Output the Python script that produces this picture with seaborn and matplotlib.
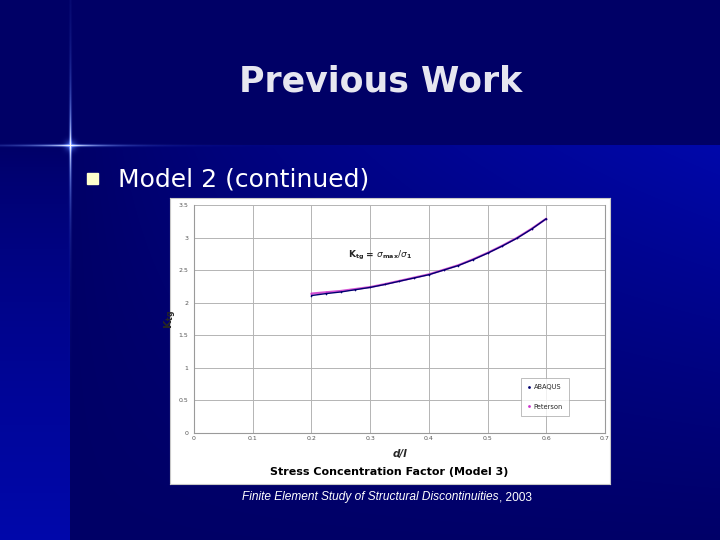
import numpy as np
import pandas as pd
import matplotlib
matplotlib.use("Agg")
import matplotlib.pyplot as plt
import seaborn as sns
from matplotlib.ticker import FuncFormatter

# ---- data ----
d_abaqus = [0.200, 0.225, 0.250, 0.275, 0.300, 0.325, 0.350, 0.375, 0.400,
            0.425, 0.450, 0.475, 0.500, 0.525, 0.550, 0.575, 0.600]
k_abaqus = [2.11, 2.14, 2.165, 2.20, 2.235, 2.28, 2.33, 2.38, 2.43,
            2.50, 2.57, 2.66, 2.76, 2.87, 2.99, 3.13, 3.29]
d_peterson = [0.200, 0.225, 0.250, 0.275, 0.300, 0.325, 0.350, 0.375, 0.400,
              0.425, 0.450, 0.475, 0.500, 0.525, 0.550, 0.575, 0.600]
k_peterson = [2.14, 2.16, 2.18, 2.21, 2.24, 2.285, 2.335, 2.385, 2.435,
              2.505, 2.575, 2.665, 2.765, 2.875, 2.995, 3.135, 3.29]
series_names = ["ABAQUS", "Peterson"]
x_ticks = [0, 0.1, 0.2, 0.3, 0.4, 0.5, 0.6, 0.7]
y_ticks = [0, 0.5, 1, 1.5, 2, 2.5, 3, 3.5]

df = pd.DataFrame({
    "d": d_abaqus + d_peterson,
    "K": k_abaqus + k_peterson,
    "series": [series_names[0]] * len(d_abaqus) + [series_names[1]] * len(d_peterson),
})

sns.set_theme(style="white")
plt.rcParams["font.family"] = ["DejaVu Sans"]

W, H = 720, 540
fig = plt.figure(figsize=(7.2, 5.4), dpi=100)

# ---- slide background ----
yy, xx = np.mgrid[0:H, 0:W].astype(float)
dark = np.array([0.0, 0.0, 0.40])
bright = np.array([0.0, 0.03, 0.67])
t = np.zeros((H, W))
right = (xx >= 70) & (yy >= 145)
t_r = np.clip((xx - 70) / 650.0, 0, 1) ** 0.8 * np.clip(1 - (yy - 145) / 420.0, 0, 1) ** 1.2
t[right] = t_r[right]
left = (xx < 70) & (yy >= 145)
t_l = np.clip((yy - 145) / 395.0, 0, 1) ** 0.7
t[left] = t_l[left]
img = dark[None, None, :] * (1 - t[..., None]) + bright[None, None, :] * t[..., None]
# lens flare
glow_v = np.exp(-((xx - 70) ** 2) / 1.5) * np.exp(-np.abs(yy - 145) / 55.0)
glow_h = np.exp(-((yy - 145) ** 2) / 1.5) * np.exp(-np.abs(xx - 70) / 45.0)
glow_c = np.exp(-((xx - 70) ** 2 + (yy - 145) ** 2) / 30.0)
g = np.clip(glow_v + glow_h + 0.6 * glow_c, 0, 1)
flare_col = np.array([0.35, 0.5, 1.0])
img = img * (1 - g[..., None]) + flare_col[None, None, :] * g[..., None]
white_core = np.clip(np.exp(-((xx - 70) ** 2) / 0.6) * np.exp(-np.abs(yy - 145) / 18.0)
                     + np.exp(-((yy - 145) ** 2) / 0.6) * np.exp(-np.abs(xx - 70) / 18.0), 0, 1)
img = img * (1 - white_core[..., None]) + white_core[..., None]
img = np.clip(img, 0, 1)

bg = fig.add_axes([0, 0, 1, 1], zorder=-10)
bg.imshow(img, aspect="auto", extent=[0, W, H, 0], interpolation="bilinear")
bg.set_xlim(0, W)
bg.set_ylim(H, 0)
bg.axis("off")

# slide texts
fig.text(381 / W, 1 - 82 / H, "Previous Work", ha="center", va="center",
         fontsize=25, fontweight="bold", color="#e6e6f0")
bg.add_patch(plt.Rectangle((87, 173), 11, 11, color="#ffffcc"))
fig.text(118 / W, 1 - 179 / H, "Model 2 (continued)", ha="left", va="center",
         fontsize=18, color="white")
cap1 = fig.text(242 / W, 1 - 497 / H, "Finite Element Study of Structural Discontinuities",
                ha="left", va="center", fontsize=8.6, style="italic", color="white",
                family="Liberation Sans")
renderer = fig.canvas.get_renderer()
bb = cap1.get_window_extent(renderer=renderer)
fig.text(bb.x1 / W, 1 - 497 / H, ", 2003", ha="left", va="center", fontsize=8.6,
         color="white", family="Liberation Sans")

# chart white box
box = fig.add_axes([170 / W, 1 - 484 / H, 440 / W, 286 / H], zorder=0)
box.set_facecolor("white")
box.set_xticks([])
box.set_yticks([])
for s in box.spines.values():
    s.set_color("#c8c8c8")
    s.set_linewidth(0.8)

# ---- plot ----
ax = fig.add_axes([194 / W, 1 - 433 / H, 411 / W, 228 / H], zorder=1)
ax.set_facecolor("white")
sns.lineplot(data=df, x="d", y="K", hue="series", palette=["#000070", "#cc33cc"],
             marker="o", markersize=1.2, markeredgewidth=0, linewidth=1.0, ax=ax)
lines = ax.get_lines()
if len(lines) >= 2:
    lines[0].set_zorder(3)
    lines[1].set_zorder(2)
    lines[1].set_linewidth(1.6)
    lines[1].set_alpha(0.85)

ax.set_xlim(0, 0.7)
ax.set_ylim(0, 3.5)
ax.set_xticks(x_ticks)
ax.set_yticks(y_ticks)
fmt = FuncFormatter(lambda v, p: f"{v:g}")
ax.xaxis.set_major_formatter(fmt)
ax.yaxis.set_major_formatter(fmt)
ax.tick_params(axis="both", labelsize=4.5, colors="#555555", length=2, width=0.6, pad=2)
ax.tick_params(axis="x", length=0)
ax.grid(True, color="#b4b4b4", linewidth=0.7)
for name, s in ax.spines.items():
    s.set_color("#9a9a9a")
    s.set_linewidth(0.8)
ax.spines["top"].set_visible(False)

ax.set_xlabel("d/l", fontsize=7.5, fontweight="bold", style="italic", labelpad=6)
ax.set_ylabel(r"$\mathbf{K_{tg}}$", fontsize=8, labelpad=0)
fig.text(389 / W, 1 - 472 / H, "Stress Concentration Factor (Model 3)", ha="center",
         va="center", fontsize=8, fontweight="bold", color="black")

ax.text(0.317, 2.72, r"$\mathbf{K_{tg}}$ = $\sigma_{\mathbf{max}}/\sigma_{\mathbf{1}}$",
        ha="center", va="center", fontsize=6.5, fontweight="bold")

leg = ax.legend(title=None, loc="upper right", bbox_to_anchor=(0.92, 0.255),
                fontsize=4.8, frameon=True, fancybox=False, handlelength=0.6,
                labelspacing=2.0, borderpad=0.9, handletextpad=0.4)
leg.get_frame().set_edgecolor("#a0a0a0")
leg.get_frame().set_linewidth(0.6)
for h in leg.get_lines():
    h.set_linewidth(0)
    h.set_markersize(2)

fig.savefig("out.png", dpi=100)
